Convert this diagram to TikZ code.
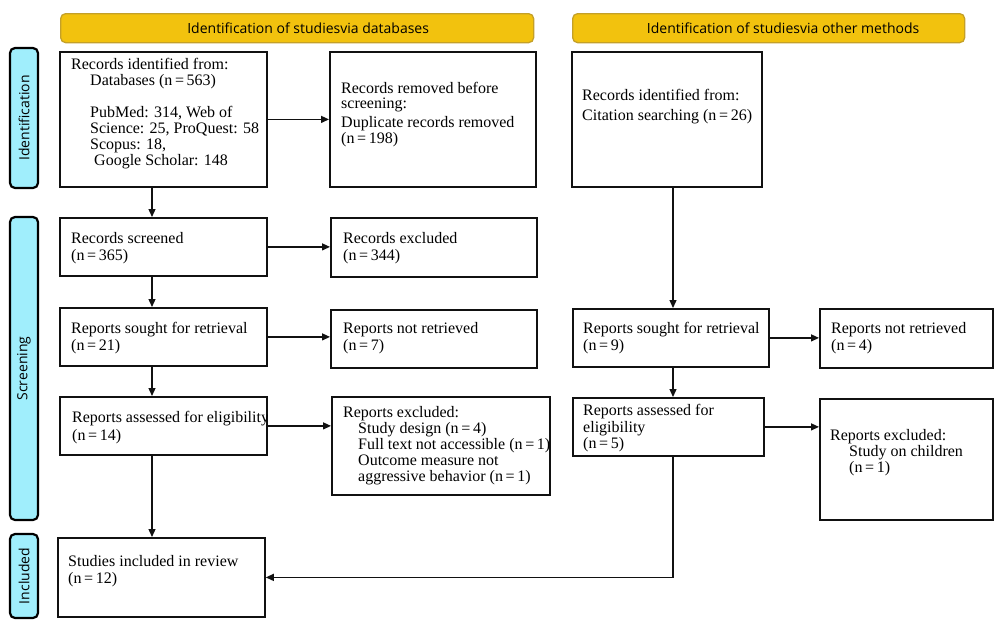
\documentclass[tikz,border=0pt]{standalone}
\usepackage{fontspec}
\setmainfont{Liberation Serif}
\newfontfamily\hdrfont{Open Sans}
\usetikzlibrary{arrows.meta}
\definecolor{hdrfill}{RGB}{242,194,14}
\definecolor{hdrline}{RGB}{196,160,40}
\definecolor{sidefill}{RGB}{160,238,252}
\definecolor{boxline}{RGB}{17,17,17}
\newcommand{\fs}{\fontsize{16pt}{16pt}\selectfont\lineskiplimit=-20pt}
\newcommand{\hfs}{\hdrfont\fontsize{14pt}{16pt}\selectfont}
\newcommand{\st}{\rule{0pt}{12pt}}
\newcommand{\nn}[1]{(n\,=\,#1)}
\begin{document}
\begin{tikzpicture}[x=1pt,y=-1pt,
  box/.style={draw=boxline, line width=1.8pt, rectangle, inner sep=0pt, anchor=north west},
  txt/.style={font=\fs, align=left, inner sep=0pt, anchor=north west},
  hdr/.style={draw=hdrline, line width=1.3pt, fill=hdrfill, rounded corners=5pt, inner sep=0pt, font=\hfs, anchor=north west, minimum height=29pt},
  side/.style={draw=black, line width=2.2pt, fill=sidefill, rounded corners=5pt, rotate=90, inner sep=0pt, font=\hfs, minimum height=28pt},
  arr/.style={draw=boxline, line width=1.3pt, -{Triangle[length=8pt,width=7pt]}},
]
\useasboundingbox (0,0) rectangle (1000,629);
\fill[white] (0,0) rectangle (1000,629);

% headers
\node[hdr, minimum width=473pt] (h1) at (60,13) {\hspace*{22pt}Identification of studiesvia databases};
\node[hdr, minimum width=392pt] (h2) at (572,13) {\hspace*{29pt}Identification of studiesvia other methods};

% side labels
\node[side, minimum width=140pt] (s1) at (24,118) {Identification};
\node[side, minimum width=303pt] (s2) at (24,368.5) {Screening};
\node[side, minimum width=84pt] (s3) at (24,576) {Included};

% boxes
\node[box, minimum width=207pt, minimum height=135pt] (b1) at (59,51) {};
\node[box, minimum width=206pt, minimum height=135pt] (b2) at (329,51) {};
\node[box, minimum width=190pt, minimum height=135pt] (b3) at (571,51) {};
\node[box, minimum width=207pt, minimum height=58pt] (b4) at (59,217) {};
\node[box, minimum width=206pt, minimum height=59pt] (b5) at (330,217) {};
\node[box, minimum width=207pt, minimum height=58pt] (b6) at (59,307) {};
\node[box, minimum width=206pt, minimum height=58pt] (b7) at (330,309) {};
\node[box, minimum width=207pt, minimum height=58pt] (b8) at (59,396) {};
\node[box, minimum width=218pt, minimum height=98pt] (b9) at (331,396) {};
\node[box, minimum width=207pt, minimum height=79pt] (b10) at (57,537) {};
\node[box, minimum width=196pt, minimum height=58pt] (b11) at (572,308) {};
\node[box, minimum width=173pt, minimum height=59pt] (b12) at (819,308) {};
\node[box, minimum width=191pt, minimum height=58pt] (b13) at (572,397) {};
\node[box, minimum width=173pt, minimum height=121pt] (b14) at (819,398) {};

% texts
\node[txt] (t1) at (71,57) {\st Records identified from:\\
\hspace*{19pt}Databases \nn{563}\\[16pt]
\hspace*{19pt}PubMed: 314, Web of\\
\hspace*{19pt}Science: 25, ProQuest: 58\\
\hspace*{19pt}Scopus: 18,\\
\hspace*{23pt}Google Scholar: 148};
\node[txt] (t2) at (341,81) {\st Records removed before\\[-1pt]
screening:\\[3pt]
Duplicate records removed\\
\nn{198}};
\node[txt] (t3) at (582,88) {\st Records identified from:\\[4pt]
Citation searching \nn{26}};
\node[txt] (t4) at (71,231) {\st Records screened\\[1pt] \nn{365}};
\node[txt] (t5) at (343,231) {\st Records excluded\\[1pt] \nn{344}};
\node[txt] (t6) at (71,321) {\st Reports sought for retrieval\\[1pt] \nn{21}};
\node[txt] (t7) at (343,321) {\st Reports not retrieved\\[1pt] \nn{7}};
\begin{scope}
\clip (b8.south west) rectangle (b8.north east);
\node[txt] (t8) at (72,410) {\st Reports assessed for eligibility\\[2pt] \nn{14}};
\end{scope}
\node[txt] (t9) at (343,405) {\st Reports excluded:\\
\hspace*{15pt}Study design \nn{4}\\
\hspace*{15pt}Full text not accessible \nn{1}\\
\hspace*{15pt}Outcome measure not\\
\hspace*{15pt}aggressive behavior \nn{1}};
\node[txt] (t10) at (68,554) {\st Studies included in review\\[1pt] \nn{12}};
\node[txt] (t11) at (583,321) {\st Reports sought for retrieval\\[1pt] \nn{9}};
\node[txt] (t12) at (831,321) {\st Reports not retrieved\\[1pt] \nn{4}};
\node[txt] (t13) at (583,403) {\st Reports assessed for\\[1pt] eligibility\\ \nn{5}};
\node[txt] (t14) at (830,428) {\st Reports excluded:\\
\hspace*{19pt}Study on children\\
\hspace*{19pt}\nn{1}};

% connectors
\coordinate (cl) at (152,0);
\coordinate (cr) at (673,0);
\draw[arr] (b1.south -| cl) -- (b4.north -| cl);
\draw[arr] (b4.south -| cl) -- (b6.north -| cl);
\draw[arr] (b6.south -| cl) -- (b8.north -| cl);
\draw[arr] (b8.south -| cl) -- (b10.north -| cl);
\draw[arr] (b1.east) -- (b2.west);
\draw[arr] (b4.east) -- (b4.east -| b5.west);
\draw[arr] (b6.east) -- (b6.east -| b7.west);
\draw[arr] (b8.east) -- (b8.east -| b9.west);
\draw[arr] (b3.south -| cr) -- (b11.north -| cr);
\draw[arr] (b11.south -| cr) -- (b13.north -| cr);
\draw[arr] (b11.east) -- (b11.east -| b12.west);
\draw[arr] (b13.east) -- (b13.east -| b14.west);
\draw[arr] (b13.south -| cr) |- (b10.east);
\end{tikzpicture}
\end{document}
